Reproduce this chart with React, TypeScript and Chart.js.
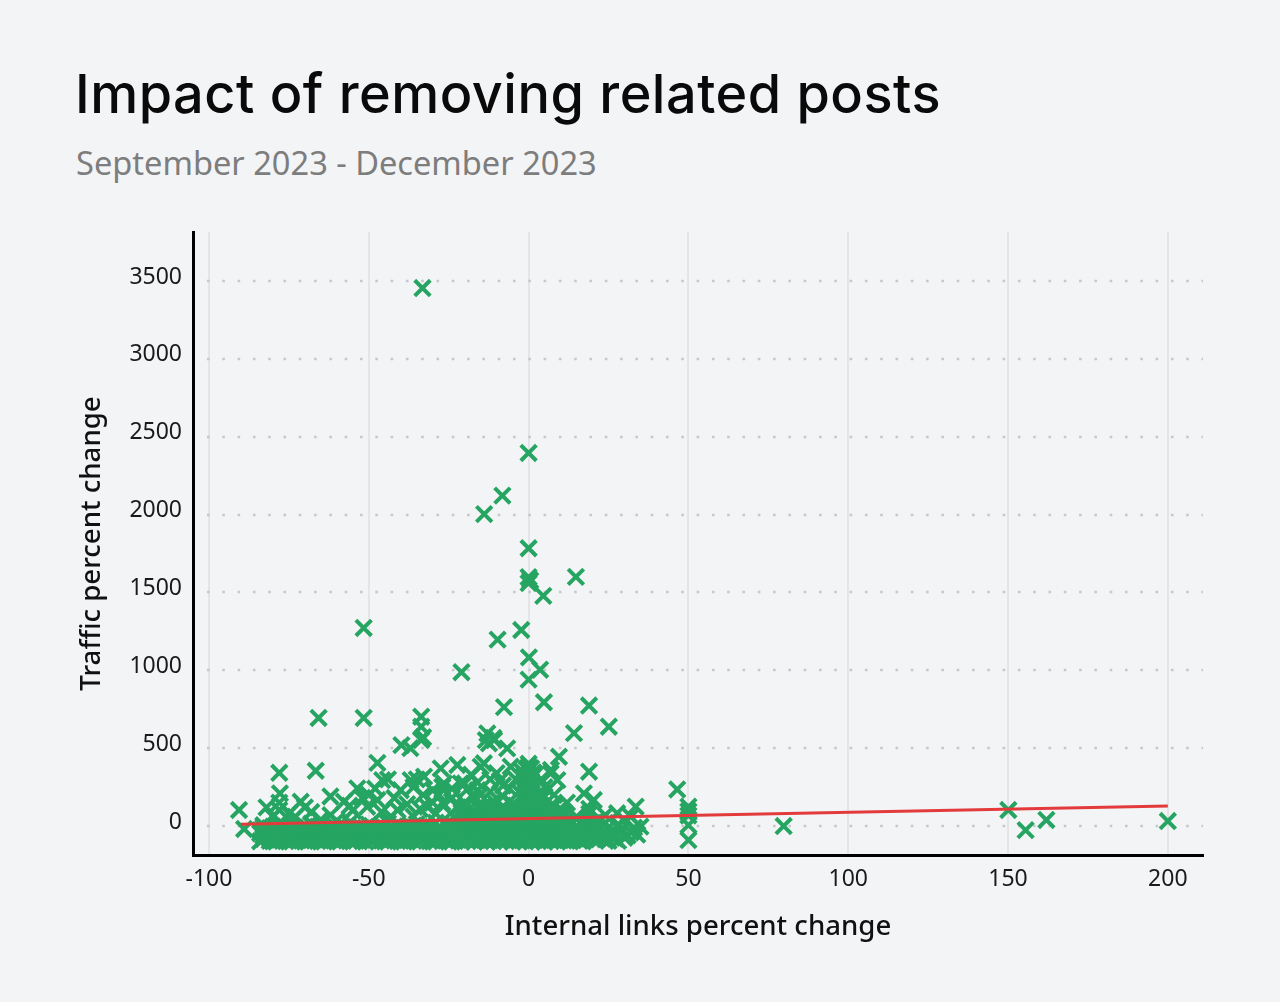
import React, { useEffect, useRef } from "react";
import { Chart, registerables } from "chart.js";

Chart.register(...registerables);

const TITLE = "Impact of removing related posts";
const SUBTITLE = "September 2023 - December 2023";
const X_TITLE = "Internal links percent change";
const Y_TITLE = "Traffic percent change";

const X_TICKS = [-100, -50, 0, 50, 100, 150, 200];
const Y_TICKS = [0, 500, 1000, 1500, 2000, 2500, 3000, 3500];

// Trend line end points [x, y]
const TREND: [number, number][] = [
  [-90, 11],
  [200, 128],
];

// Dense band on the left (x -84..-22, y around -100..20)
const LEFT_BAND: [number, number][] = [
  [-84, -98], [-81, -95], [-79, -100], [-76, -97], [-74, -99], [-71, -94], [-69, -100], [-66, -96], [-64, -99], [-61, -93],
  [-59, -100], [-56, -97], [-54, -95], [-51, -100], [-49, -98], [-46, -94], [-44, -100], [-41, -96], [-39, -99], [-36, -95],
  [-34, -100], [-31, -97], [-29, -99], [-26, -94], [-24, -100],
  [-83, -84], [-80, -80], [-78, -88], [-75, -82], [-73, -86], [-70, -79], [-68, -90], [-65, -83], [-63, -87], [-60, -81],
  [-58, -85], [-55, -89], [-53, -78], [-50, -84], [-48, -88], [-45, -80], [-43, -86], [-40, -83], [-38, -90], [-35, -79],
  [-33, -85], [-30, -88], [-28, -81], [-25, -86], [-23, -84],
  [-83, -62], [-80, -70], [-78, -58], [-75, -66], [-72, -61], [-70, -72], [-67, -60], [-65, -68], [-62, -57], [-60, -71],
  [-57, -63], [-55, -59], [-52, -69], [-50, -64], [-47, -58], [-45, -72], [-42, -61], [-40, -66], [-37, -59], [-35, -70],
  [-32, -63], [-30, -57], [-27, -68], [-25, -62], [-22, -60],
  [-84, -46], [-81, -52], [-78, -42], [-76, -49], [-73, -45], [-71, -53], [-68, -40], [-66, -48], [-63, -44], [-61, -51],
  [-58, -47], [-56, -41], [-53, -50], [-51, -45], [-48, -52], [-46, -43], [-43, -48], [-41, -54], [-38, -44], [-36, -47],
  [-33, -51], [-31, -42], [-28, -49], [-26, -46], [-23, -53],
  [-84, -28], [-82, -35], [-79, -22], [-77, -31], [-74, -26], [-72, -38], [-69, -24], [-67, -33], [-64, -20], [-62, -29],
  [-59, -36], [-57, -25], [-54, -30], [-52, -18], [-49, -34], [-47, -27], [-44, -21], [-42, -37], [-39, -26], [-37, -30],
  [-34, -19], [-32, -35], [-29, -28], [-27, -23], [-24, -32],
  [-83, -10], [-81, -14], [-78, -8], [-76, -16], [-73, -11], [-70, -6], [-67, -15], [-64, -9], [-61, -13], [-58, -7],
  [-55, -12], [-52, -16], [-49, -10], [-46, -5], [-43, -14], [-40, -9], [-37, -12], [-34, -6], [-31, -15], [-28, -10],
  [-25, -13], [-22, -8],
  [-83, 5], [-80, -5], [-77, 12], [-74, 2], [-71, -8], [-68, 15], [-65, 4], [-62, -3], [-59, 10], [-56, 20],
  [-53, 0], [-50, 8], [-47, -6], [-44, 18], [-41, 6], [-38, -2], [-35, 14], [-32, 3], [-29, 22], [-26, 9], [-23, -4],
];

// Dense block around zero (x -21..12, y -100..130)
const CENTER_BLOCK: [number, number][] = [
  [-21, -100], [-19, -96], [-17, -99], [-15, -94], [-13, -100], [-11, -97], [-9, -99], [-7, -95], [-5, -100], [-3, -96],
  [-1, -98], [1, -100], [3, -95], [5, -99], [7, -97], [9, -100], [11, -94],
  [-20, -84], [-18, -88], [-16, -80], [-14, -86], [-12, -90], [-10, -82], [-8, -87], [-6, -79], [-4, -85], [-2, -91],
  [0, -83], [2, -88], [4, -81], [6, -86], [8, -90], [10, -80], [12, -85],
  [-21, -68], [-19, -60], [-17, -70], [-15, -63], [-13, -58], [-11, -66], [-9, -61], [-7, -72], [-5, -64], [-3, -59],
  [-1, -67], [1, -62], [3, -70], [5, -57], [7, -65], [9, -60], [11, -69],
  [-21, -45], [-19, -50], [-17, -42], [-15, -48], [-13, -53], [-11, -44], [-9, -47], [-7, -40], [-5, -52], [-3, -46],
  [-1, -41], [1, -49], [3, -44], [5, -38], [7, -51], [9, -43], [11, -48],
  [-20, -30], [-18, -24], [-16, -35], [-14, -27], [-12, -22], [-10, -33], [-8, -26], [-6, -31], [-4, -20], [-2, -28],
  [0, -35], [2, -23], [4, -30], [6, -26], [8, -34], [10, -21],
  [-21, -12], [-19, -8], [-17, -16], [-15, -10], [-13, -5], [-11, -14], [-9, -9], [-7, -18], [-5, -6], [-3, -13],
  [-1, -17], [1, -7], [3, -11], [5, -15], [7, -8], [9, -12], [11, -4],
  [-21, 5], [-19, 12], [-17, -2], [-15, 8], [-13, 15], [-11, 0], [-9, 10], [-7, 4], [-5, 16], [-3, -3],
  [-1, 9], [1, 13], [3, 2], [5, 11], [7, -1], [9, 7], [11, 14],
  [-21, 22], [-19, 26], [-17, 18], [-15, 28], [-13, 20], [-11, 24], [-9, 17], [-7, 27], [-5, 21], [-3, 25],
  [-1, 19], [1, 28], [3, 22], [5, 18], [7, 26], [9, 20], [11, 24],
  [-20, 40], [-18, 35], [-16, 46], [-14, 38], [-12, 44], [-10, 32], [-8, 48], [-6, 36], [-4, 42], [-2, 30],
  [0, 45], [2, 39], [4, 34], [6, 47], [8, 37], [10, 43],
  [-21, 55], [-19, 60], [-17, 52], [-15, 58], [-13, 62], [-11, 54], [-9, 59], [-7, 51], [-5, 57], [-3, 63],
  [-1, 55], [1, 60], [3, 52], [5, 58], [7, 62], [9, 54],
  [-20, 72], [-18, 80], [-16, 68], [-14, 78], [-12, 70], [-10, 84], [-8, 74], [-6, 66], [-4, 82], [-2, 76],
  [0, 70], [2, 79], [4, 73], [6, 85], [8, 68],
  [-21, 88], [-17, 92], [-13, 86], [-9, 94], [-5, 90], [-1, 88], [3, 93], [7, 87], [11, 90],
  [-19, 100], [-15, 108], [-11, 96], [-7, 104], [-3, 110], [1, 98], [5, 106], [9, 94],
  [-20, 122], [-16, 128], [-12, 120], [-8, 126], [-4, 130], [0, 118], [4, 124], [8, 128],
];

// Vertical spike at x = 0
const SPIKE: [number, number][] = [
  [0, 130], [-1, 150], [1, 160], [0, 180], [-1, 200], [1, 210], [0, 230], [-1, 250], [1, 265], [0, 280],
  [-1, 300], [1, 310], [0, 330], [0, 355], [0, 380], [-0.5, 140], [0.5, 220], [0.6, 290],
  [-1.5, 170], [1.5, 190], [-1.5, 240], [1.5, 255], [-1.5, 320], [1.5, 345], [0, 400], [-0.7, 365], [0.8, 370],
  [0, 300], [0, 250], [0, 205], [0, 155],
];

// Sub-cluster right of zero (x 12..35)
const RIGHT_CLUSTER: [number, number][] = [
  [13, -95], [15, -80], [17, -98], [19, -70], [21, -90], [23, -55], [25, -95], [27, -80], [29, -30], [31, -60],
  [33, -10], [35, -4], [12, -40], [14, -20], [16, -50], [18, -35], [20, 5], [22, -15], [24, 20], [26, -40],
  [28, 10], [30, 39], [32, 60], [33.5, 124], [27.7, 82], [22.5, 39], [17.3, -4], [14.2, -69], [23.6, -47], [12, 30],
  [15, 50], [19, 80], [24, 70], [8, 200], [12, 150], [5, 250], [3, 180], [10, 100], [15, 60], [19, 110],
  [17.3, 210], [20.4, 167], [6.9, 338], [9, 295],
  [12, -70], [13, -55], [14, -90], [16, -95], [18, -85], [20, -60], [22, -75], [24, -85], [26, -65], [28, -95],
  [30, -75], [32, -40], [34, -55], [16, -20], [20, -25], [25, -10], [13, 5], [18, 15], [12, -10], [21, 30],
];

// Scattered points with low-to-mid traffic change
const LOW_SCATTER: [number, number][] = [
  [-90.6, 103], [-89, -19], [-77.8, 210], [-78, 103], [-78, 150], [-75, 80], [-71.3, 156], [-73, 60], [-68, 90], [-65, 40],
  [-62, 70], [-57.8, 156], [-53.6, 242], [-52, 180], [-50.5, 124], [-47.3, 167], [-46, 90], [-43, 60], [-41, 103], [-38, 140],
  [-36, 60], [-34, 110], [-31.7, 124], [-29, 80], [-27, 150], [-24.4, 82], [-22, 120], [-60, 35], [-55, 100],
  [-20, 150], [-17, 180], [-14, 130], [-11, 160], [-8, 190], [-5, 140], [-3, 220], [3, 150], [5, 190], [7, 130],
  [-6, 240], [-12, 220], [-15, 200], [2, 260], [4, 300], [-4, 300], [-9, 290], [-2, 350], [2, 330], [7, 360],
  [-16, 280], [-19, 240], [-24, 180], [-24, 240], [-28, 200], [-30, 150], [-33, 200], [-36, 250], [-42, 180], [-44, 300],
  [-48, 240], [-50, 200], [-56, 130], [-62, 190], [-70, 120], [-80, 60], [-82, 120],
];

// Scattered points with mid traffic change (250..800)
const MID_SCATTER: [number, number][] = [
  [-78, 342], [-66.6, 355], [-47.3, 406], [-45.8, 295], [-36.9, 295], [-32.7, 317], [-27.5, 370], [-22.3, 392], [-21.3, 274], [-27, 252],
  [-15, 381], [-16, 231], [-26.5, 274], [-20, 274], [-14, 403], [-5.6, 381], [-35, 300], [-30, 230], [-40, 230], [-18, 330],
  [-12, 300], [-8, 260], [-10, 340],
  [-65.7, 694], [-51.6, 694], [-33.6, 702], [-33.6, 638], [-33.6, 552], [-33, 570], [-39.8, 520], [-37, 500], [-13.4, 552], [-12.9, 595],
  [-10.8, 552], [-12.4, 531], [-6.7, 499], [-11, 565], [-7.7, 764], [4.8, 795], [18.9, 774], [25.1, 638], [14.2, 597], [9.5, 445],
  [18.9, 349],
];

// High outliers
const HIGH_SCATTER: [number, number][] = [
  [-33.2, 3455], [0, 2396], [-8.2, 2122], [-13.9, 2003], [0, 1784], [0, 1598], [0, 1560], [0.5, 1578], [4.6, 1478], [14.8, 1600],
  [-51.6, 1272], [-2.3, 1259], [-9.7, 1197], [0.1, 1083], [3.6, 1004], [0, 940], [-21, 988],
];

// Points far to the right
const FAR_RIGHT: [number, number][] = [
  [46.5, 235], [50, 125], [50, 95], [50, 68], [50, 6], [50, -90], [79.8, 0], [150.1, 103], [155.5, -26], [162, 39], [200, 32],
];

const ALL_POINTS = [
  ...LEFT_BAND,
  ...CENTER_BLOCK,
  ...SPIKE,
  ...RIGHT_CLUSTER,
  ...LOW_SCATTER,
  ...MID_SCATTER,
  ...HIGH_SCATTER,
  ...FAR_RIGHT,
].map(([x, y]) => ({ x, y }));

const GREEN = "#26a562";
const RED = "#e33b3b";
const BG = "#f3f4f6";
const TEXT_FONT = "'Noto Sans', 'Open Sans', sans-serif";

const dottedGrid = {
  id: "dottedGrid",
  beforeDatasetsDraw(chart: any) {
    const { ctx, chartArea, scales } = chart;
    const xs = scales.x;
    const ys = scales.y;
    const startX = xs.getPixelForValue(X_TICKS[0]) - 2;
    ctx.save();
    ctx.strokeStyle = "#c6c8cc";
    ctx.lineWidth = 2.6;
    ctx.setLineDash([2.6, 12.7]);
    Y_TICKS.forEach((v) => {
      const py = Math.round(ys.getPixelForValue(v));
      ctx.beginPath();
      ctx.moveTo(startX, py);
      ctx.lineTo(chartArea.right, py);
      ctx.stroke();
    });
    ctx.restore();
  },
};

export default function App() {
  const canvasRef = useRef<HTMLCanvasElement>(null);

  useEffect(() => {
    document.body.style.margin = "0";
    document.body.style.background = BG;
    const canvas = canvasRef.current;
    if (!canvas) return;
    const chart = new Chart(canvas, {
      type: "scatter",
      data: {
        datasets: [
          {
            type: "line",
            data: TREND.map(([x, y]) => ({ x, y })),
            borderColor: RED,
            borderWidth: 3,
            pointRadius: 0,
            fill: false,
            order: 0,
          } as any,
          {
            type: "scatter",
            data: ALL_POINTS,
            pointStyle: "crossRot",
            pointRadius: 11,
            borderColor: GREEN,
            backgroundColor: GREEN,
            borderWidth: 4,
            order: 1,
          } as any,
        ],
      },
      options: {
        responsive: false,
        animation: false,
        devicePixelRatio: 1,
        layout: { padding: { top: 232, right: 77, bottom: 54, left: 72 } },
        plugins: {
          legend: { display: false },
          tooltip: { enabled: false },
          title: { display: false },
        },
        scales: {
          x: {
            type: "linear",
            min: -105,
            max: 211,
            afterBuildTicks: (scale: any) => {
              scale.ticks = X_TICKS.map((v) => ({ value: v }));
            },
            afterFit: (scale: any) => {
              scale.height = 93;
            },
            grid: {
              color: "#e3e5e9",
              lineWidth: 2,
              drawTicks: false,
            },
            border: { display: true, color: "#000", width: 3 },
            ticks: {
              color: "#1a1a1a",
              padding: 11,
              font: { family: TEXT_FONT, size: 23 },
              maxRotation: 0,
              callback: (v: any) => String(v),
            },
            title: {
              display: true,
              text: X_TITLE,
              color: "#111",
              font: { family: TEXT_FONT, size: 27.6, weight: 500 },
            },
          },
          y: {
            type: "linear",
            min: -186,
            max: 3815,
            afterBuildTicks: (scale: any) => {
              scale.ticks = Y_TICKS.map((v) => ({ value: v }));
            },
            afterFit: (scale: any) => {
              scale.width = 121;
            },
            grid: { display: false, drawTicks: false },
            border: { display: true, color: "#000", width: 3 },
            ticks: {
              color: "#1a1a1a",
              padding: 11,
              labelOffset: -4,
              font: { family: TEXT_FONT, size: 23 },
              callback: (v: any) => String(v),
            },
            title: {
              display: true,
              text: Y_TITLE,
              color: "#111",
              font: { family: TEXT_FONT, size: 27.6, weight: 500 },
            },
          },
        },
      },
      plugins: [dottedGrid],
    });
    return () => chart.destroy();
  }, []);

  return (
    <div
      style={{
        position: "fixed",
        left: 0,
        top: 0,
        width: 1280,
        height: 1002,
        background: BG,
        overflow: "hidden",
      }}
    >
      <div
        style={{
          position: "absolute",
          left: 75,
          top: 62,
          fontFamily: "Inter, 'Noto Sans', sans-serif",
          fontSize: 54,
          fontWeight: 500,
          lineHeight: "64px",
          color: "#0a0a0a",
          whiteSpace: "nowrap",
          letterSpacing: "0.5px",
        }}
      >
        {TITLE}
      </div>
      <div
        style={{
          position: "absolute",
          left: 76,
          top: 143,
          fontFamily: TEXT_FONT,
          fontSize: 32.6,
          fontWeight: 400,
          lineHeight: "40px",
          color: "#7d7d7d",
          whiteSpace: "nowrap",
        }}
      >
        {SUBTITLE}
      </div>
      <canvas
        ref={canvasRef}
        width={1280}
        height={1002}
        style={{ position: "absolute", left: 0, top: 0, width: 1280, height: 1002 }}
      />
    </div>
  );
}
